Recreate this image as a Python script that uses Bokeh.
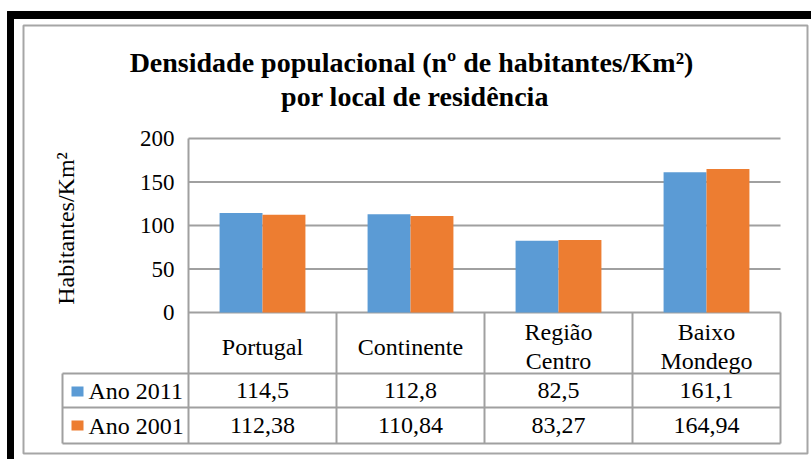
import numpy as np
from bokeh.plotting import figure
from bokeh.models import FixedTicker, Range1d, ColumnDataSource
from bokeh.transform import dodge
from bokeh.core.properties import value
from bokeh.embed import file_html
from bokeh.resources import INLINE

# ---------------- data ----------------
categories = ["Portugal", "Continente", "Região Centro", "Baixo Mondego"]
series_names = ["Ano 2011", "Ano 2001"]
values_2011 = [114.5, 112.8, 82.5, 161.1]
values_2001 = [112.38, 110.84, 83.27, 164.94]
y_ticks = [0, 50, 100, 150, 200]
title_text = "Densidade populacional  (nº de habitantes/Km²)\npor local de residência"
y_title = "Habitantes/Km²"
colors = ["#5B9BD5", "#ED7D31"]

# ---------------- layout helpers (canvas pixel -> data coords) ----------------
W, H = 811, 459
PXU = 148.0   # pixels per category
PYU = 0.87    # pixels per unit of density
def X(px):
    return (px - 188.0) / PXU
def Y(py):
    return (312.0 - py) / PYU

FONT = value("Liberation Serif")
GRID = "#A0A0A0"
n = len(categories)
ncat = np.arange(n)

p = figure(width=W, height=H, x_range=Range1d(X(0), X(W)),
           y_range=Range1d(Y(H), Y(0)), output_backend="svg",
           toolbar_location=None, x_axis_location=None, title=None,
           min_border=0, min_border_left=0, min_border_right=0,
           min_border_top=0, min_border_bottom=0)
p.outline_line_color = None
p.background_fill_color = "white"
p.border_fill_color = "white"
p.grid.visible = False

# y axis drawn at x = 0 (left edge of the plot area)
ax = p.yaxis[0]
ax.fixed_location = 0
ax.ticker = FixedTicker(ticks=y_ticks)
ax.axis_line_color = None
ax.major_tick_line_color = None
ax.minor_tick_line_color = None
ax.major_label_standoff = 8
ax.major_label_text_font = "Liberation Serif"
ax.major_label_text_font_size = "23px"
ax.major_label_text_color = "black"

# ---------------- chart frame ----------------
p.quad(left=X(7), right=X(13), top=Y(11), bottom=Y(H), color="black")
p.quad(left=X(7), right=X(W), top=Y(11), bottom=Y(18), color="black")
p.quad(left=X(23), right=X(807), top=Y(25), bottom=Y(453), fill_color=None,
       line_color="#A6A6A6", line_width=2)

# ---------------- gridlines ----------------
p.segment(x0=0, x1=n, y0=y_ticks, y1=y_ticks, line_color=GRID, line_width=2)

# ---------------- bars ----------------
src = ColumnDataSource(dict(xc=ncat + 0.5, v11=values_2011, v01=values_2001))
p.vbar(x=dodge("xc", -0.145, range=p.x_range), top="v11", bottom=0, width=0.29,
       fill_color=colors[0], line_color=None, source=src)
p.vbar(x=dodge("xc", 0.145, range=p.x_range), top="v01", bottom=0, width=0.29,
       fill_color=colors[1], line_color=None, source=src)

# ---------------- data table ----------------
row_tops = [Y(373), Y(407), Y(443)]
legend_left = X(62)
# horizontal lines
p.segment(x0=legend_left, x1=n, y0=row_tops, y1=row_tops, line_color=GRID, line_width=2)
# vertical lines
p.segment(x0=[0], x1=[0], y0=[max(y_ticks)], y1=[row_tops[-1]], line_color=GRID, line_width=2)
p.segment(x0=ncat[1:].tolist() + [n], x1=ncat[1:].tolist() + [n], y0=0, y1=row_tops[-1],
          line_color=GRID, line_width=2)
p.segment(x0=[legend_left], x1=[legend_left], y0=[row_tops[0]], y1=[row_tops[-1]],
          line_color=GRID, line_width=2)

# category header
p.text(x=ncat + 0.5, y=Y(346), text=[c.replace(" ", "\n") for c in categories],
       text_font=FONT, text_font_size="24px", text_align="center",
       text_baseline="middle", text_line_height=1.1, text_color="black")

# values rows
fmt = lambda v: f"{v:g}".replace(".", ",")
row_mid = [Y(390), Y(425)]
for vals, ym in zip([values_2011, values_2001], row_mid):
    p.text(x=ncat + 0.5, y=ym, text=[fmt(v) for v in vals], text_font=FONT,
           text_font_size="24px", text_align="center", text_baseline="middle",
           text_color="black")

# legend keys in the table
p.rect(x=X(77), y=[Y(391), Y(425)], width=12, height=10, width_units="screen",
       height_units="screen", fill_color=colors, line_color=None)
p.text(x=X(88), y=row_mid, text=series_names, text_font=FONT, text_font_size="24px",
       text_align="left", text_baseline="middle", text_color="black")

# ---------------- titles ----------------
p.text(x=[X(414.5)], y=[Y(79)], text=[title_text], text_font=FONT,
       text_font_style="bold", text_font_size="28px", text_align="center",
       text_baseline="middle", text_line_height=1.12, text_color="black")
p.text(x=[X(65)], y=[Y(228)], text=[y_title], angle=np.pi / 2, text_font=FONT,
       text_font_size="24px", text_align="center", text_baseline="middle",
       text_color="black")

open("out.html", "w").write(file_html(p, INLINE))
